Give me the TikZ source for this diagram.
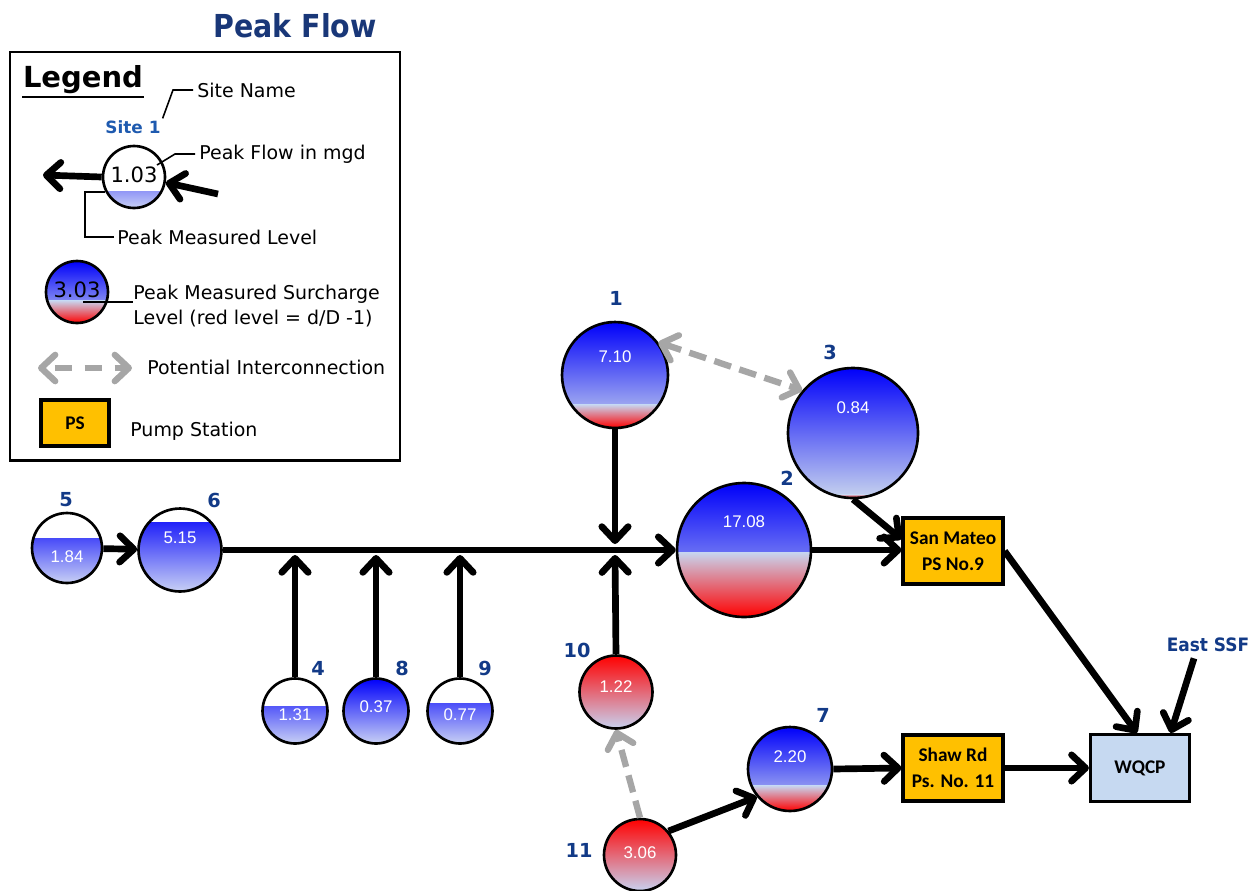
\documentclass[tikz,border=0pt]{standalone}
\usepackage{graphicx}
\usepackage{fontspec}
\setmainfont{DejaVu Sans}
\newfontfamily\arialf{Liberation Sans}
\newfontfamily\calf{Carlito}
\usetikzlibrary{arrows.meta,calc}

\definecolor{labelblue}{RGB}{18,58,135}
\definecolor{siteblue}{RGB}{30,90,175}
\definecolor{titleblue}{RGB}{25,55,120}
\definecolor{wblue}{RGB}{0,0,250}
\definecolor{wlight}{RGB}{200,208,245}
\definecolor{slight}{RGB}{200,212,238}
\definecolor{spink}{RGB}{222,150,172}
\definecolor{sred}{RGB}{255,0,0}
\definecolor{hotmid}{RGB}{232,90,110}
\definecolor{hotlight}{RGB}{200,210,240}
\definecolor{psorange}{RGB}{255,192,0}
\definecolor{plantblue}{RGB}{198,217,241}
\definecolor{linkgray}{RGB}{166,166,166}

\tikzset{
  site/.style={circle, draw=black, line width=1.5pt, fill=white, inner sep=0pt},
  water/.style={path picture={
    \shade[top color=wblue, bottom color=wlight]
      (path picture bounding box.south west) rectangle
      ($(path picture bounding box.south east)!#1!(path picture bounding box.north east)$);}},
  surge/.style={path picture={
    \shade[top color=wblue, bottom color=slight]
      ($(path picture bounding box.south west)!#1!(path picture bounding box.north west)$)
      rectangle (path picture bounding box.north east);
    \shade[top color=slight, middle color=spink, bottom color=sred]
      (path picture bounding box.south west) rectangle
      ($(path picture bounding box.south east)!#1!(path picture bounding box.north east)$);}},
  hot/.style={path picture={
    \shade[top color=sred, middle color=hotmid, bottom color=hotlight]
      (path picture bounding box.south west) rectangle (path picture bounding box.north east);}},
  val/.style={text=white, font=\arialf\fontsize{9.6}{11}\selectfont, inner sep=0pt},
  lval/.style={text=black, font=\fontsize{12}{14}\selectfont, inner sep=0pt},
  sitelbl/.style={text=labelblue, font=\bfseries\fontsize{11}{13}\selectfont, inner sep=0pt},
  pstation/.style={draw=black, line width=1.8pt, fill=psorange, minimum width=2cm,
    minimum height=1.32cm, align=center, inner sep=0pt,
    font=\calf\bfseries\fontsize{11}{15}\selectfont},
  plant/.style={draw=black, line width=1.8pt, fill=plantblue, minimum width=1.98cm,
    minimum height=1.34cm, inner sep=0pt, font=\calf\bfseries\fontsize{11}{13}\selectfont},
  flow/.style={line width=3.8pt, -{Straight Barb[length=8pt,width=15pt,round]}},
  link/.style={line width=3.6pt, draw=linkgray, dash pattern=on 10pt off 5pt},
  leader/.style={line width=0.9pt},
  legtext/.style={anchor=west, inner sep=0pt, font=\fontsize{10.8}{14}\selectfont},
}

\begin{document}
\begin{tikzpicture}[x=0.02cm, y=-0.02cm]
\useasboundingbox (0,0) rectangle (1258,890);

% ---------- title ----------
\node[text=titleblue, font=\bfseries\fontsize{18}{21}\selectfont] (title) at (295,26)
  {\scalebox{0.9}[1]{Peak Flow}};

% ---------- legend ----------
\draw[line width=1.7pt] (10,52) rectangle (400,460);
\node[font=\bfseries\fontsize{16.5}{19}\selectfont, inner sep=0pt] (legtitle) at (83,80) {Legend};
\draw[line width=1.3pt] (22,97) -- (144,97);

\node[text=siteblue, font=\bfseries\fontsize{9.6}{11}\selectfont, inner sep=1pt] (site1) at (133,127) {Site 1};
\node[legtext] (sitename) at (197,90) {Site Name};
\draw[leader] (sitename.west) ++(-4,0) -- ++(-20,0) -- (site1.north east);

\node[site, water=0.26, minimum size=1.24cm] (lc) at (134,177) {};
\node[lval] (lcv) at (134,175) {1.03};
\coordinate (lcout) at (43,175);
\coordinate (lcin) at (218,194);
\draw[flow] (lc.west) -- (lcout);
\draw[flow] (lcin) -- (lc.-10);

\node[legtext] (pfmgd) at (199,154) {Peak Flow in mgd};
\coordinate (pfend) at (157,165);
\draw[leader] (pfmgd.west) ++(-4,0) -- ++(-20,0) -- (pfend);

\node[legtext] (pml) at (117,237) {Peak Measured Level};
\coordinate (lvlend) at (105,192);
\draw[leader] (pml.west) ++(-3,0) -- (85,237) |- (lvlend);

\node[site, surge=0.36, minimum size=1.24cm] (ls) at (77,292) {};
\node[lval] (lsv) at (77,290) {3.03};
\node[legtext, align=left] (surch) at (133,306)
  {Peak Measured Surcharge\\Level (red level = d/D -1)};
\coordinate (scend) at (83,302);
\draw[leader] (scend) -- (surch.west |- scend);

\coordinate (pia) at (38,368);
\coordinate (pib) at (132,368);
\draw[link, {Straight Barb[length=8pt,width=15pt,round]}-{Straight Barb[length=8pt,width=15pt,round]},
  dash pattern=on 10pt off 7pt, dash phase=-6pt] (pia) -- (pib);
\node[legtext] (pitext) at (147,367) {Potential Interconnection};

\node[pstation, minimum width=1.36cm, minimum height=0.92cm,
  font=\calf\bfseries\fontsize{11}{13}\selectfont] (legps) at (75,423) {PS};
\node[legtext] (pstext) at (130,431) {Pump Station};

% ---------- monitoring sites ----------
\node[site, water=0.63, minimum size=1.40cm] (s5) at (67,548) {};
\node[val] (v5) at (67,557) {1.84};
\node[sitelbl] (n5) at (66,500) {5};

\node[site, water=0.83, minimum size=1.66cm] (s6) at (180,550) {};
\node[val] (v6) at (180,538) {5.15};
\node[sitelbl] (n6) at (214,500) {6};

\node[site, water=0.57, minimum size=1.30cm] (s4) at (295,711) {};
\node[val] (v4) at (295,715) {1.31};
\node[sitelbl] (n4) at (318,668) {4};

\node[site, water=1, minimum size=1.30cm] (s8) at (376,711) {};
\node[val] (v8) at (376,707) {0.37};
\node[sitelbl] (n8) at (402,668) {8};

\node[site, water=0.62, minimum size=1.30cm] (s9) at (460,711) {};
\node[val] (v9) at (460,715) {0.77};
\node[sitelbl] (n9) at (485,668) {9};

\node[site, surge=0.22, minimum size=2.12cm] (s1) at (615,375) {};
\node[val] (v1) at (615,357) {7.10};
\node[sitelbl] (n1) at (616,298) {1};

\node[site, surge=0.48, minimum size=2.68cm] (s2) at (744,550) {};
\node[val] (v2) at (744,522) {17.08};
\node[sitelbl] (n2) at (787,478) {2};

\node[site, surge=0.03, minimum size=2.60cm] (s3) at (853,433) {};
\node[val] (v3) at (853,408) {0.84};
\node[sitelbl] (n3) at (830,352) {3};

\node[site, hot, minimum size=1.46cm] (s10) at (616,692) {};
\node[val] (v10) at (616,687) {1.22};
\node[sitelbl] (n10) at (577,650) {10};

\node[site, hot, minimum size=1.44cm] (s11) at (640,855) {};
\node[val] (v11) at (640,853) {3.06};
\node[sitelbl] (n11) at (579,850) {11};

\node[site, surge=0.30, minimum size=1.68cm] (s7) at (790,769) {};
\node[val] (v7) at (790,757) {2.20};
\node[sitelbl] (n7) at (823,715) {7};

% ---------- pump stations and plant ----------
\node[pstation] (sm) at (953,551) {San Mateo\\PS No.9};
\node[pstation] (sh) at (953,768) {Shaw Rd\\Ps. No. 11};
\node[plant] (wq) at (1140,768) {WQCP};
\node[sitelbl, font=\bfseries\fontsize{10.5}{12}\selectfont] (essf) at (1208,645) {\scalebox{0.92}[1]{East SSF}};

% ---------- flow connectors ----------
\coordinate (j4) at (295,555);
\coordinate (j8) at (376,555);
\coordinate (j9) at (460,555);
\coordinate (jtop) at (615,544);
\coordinate (jbot) at (615,555);

\draw[flow] (s5) -- (s6);
\draw[flow] (s6.east) -- (s2.west);
\draw[flow] (s4.north) -- (j4);
\draw[flow] (s8.north) -- (j8);
\draw[flow] (s9.north) -- (j9);
\draw[flow] (s1.south) -- (jtop);
\draw[flow] (s10.north) -- (jbot);
\draw[flow] (s2.east) -- (s2.east -| sm.west);
\draw[flow] (s3.south) -- ($(sm.north west)!0.33!(sm.south west)$);
\draw[flow] (sm.east) -- ($(wq.north west)!0.47!(wq.north east)$);
\draw[flow] (essf.south) ++(-14,6) -- ($(wq.north west)!0.80!(wq.north east)$);
\draw[flow] (s11.40) -- (s7.220);
\draw[flow] (s7.east) -- (sh.west);
\draw[flow] (sh.east) -- (wq.west);

% ---------- potential interconnections ----------
\draw[link, {Straight Barb[length=8pt,width=15pt,round]}-{Straight Barb[length=8pt,width=15pt,round]}]
  (s1.37) -- (s3.140);
\draw[link, -{Straight Barb[length=8pt,width=15pt,round]}] (s11.north) -- (s10.south);

\end{tikzpicture}
\end{document}
